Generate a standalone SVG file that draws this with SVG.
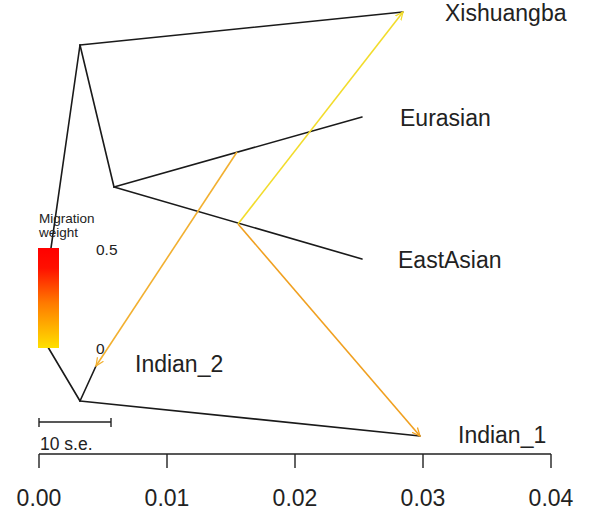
<svg xmlns="http://www.w3.org/2000/svg" width="593" height="531" viewBox="0 0 593 531">
<style>
text{font-family:"Liberation Sans",Arial,sans-serif;fill:#222}
.lbl{font-size:23px}
.tree{stroke:#1a1a1a;stroke-width:1.6;fill:none;stroke-linecap:round}
.mig{stroke-width:1.6;fill:none}
.ax{stroke:#222;stroke-width:1.4;fill:none}
</style>
<defs>
<linearGradient id="grad" x1="0" y1="0" x2="0" y2="1">
<stop offset="0" stop-color="#ff0000"/>
<stop offset="0.2" stop-color="#ff1000"/>
<stop offset="0.55" stop-color="#ff7a00"/>
<stop offset="1" stop-color="#ffe000"/>
</linearGradient>
<marker id="ay" viewBox="0 0 10 10" refX="9" refY="5" markerWidth="9" markerHeight="9" markerUnits="userSpaceOnUse" orient="auto">
<path d="M0,1 L9,5 L0,9" fill="none" stroke="#f2dc2c" stroke-width="1.4"/>
</marker>
<marker id="ao" viewBox="0 0 10 10" refX="9" refY="5" markerWidth="9" markerHeight="9" markerUnits="userSpaceOnUse" orient="auto">
<path d="M0,1 L9,5 L0,9" fill="none" stroke="#f0a020" stroke-width="1.4"/>
</marker>
<marker id="ao2" viewBox="0 0 10 10" refX="9" refY="5" markerWidth="9" markerHeight="9" markerUnits="userSpaceOnUse" orient="auto">
<path d="M0,1 L9,5 L0,9" fill="none" stroke="#f2b030" stroke-width="1.4"/>
</marker>
</defs>
<rect width="593" height="531" fill="#fff"/>
<g id="connectors">
<path class="tree" d="M39,332 L80,45"/>
<path class="tree" d="M39,332 L80,401"/>
<path class="tree" d="M80,45 L403,12"/>
<path class="tree" d="M80,45 L114,187"/>
<path class="tree" d="M114,187 L362,117"/>
<path class="tree" d="M114,187 L362,259"/>
<path class="tree" d="M80,401 L96,366"/>
<path class="tree" d="M80,401 L420,436"/>
<path class="mig" stroke="#f2dc2c" d="M238,224 L403,12" marker-end="url(#ay)"/>
<path class="mig" stroke="#f0a020" d="M238,224 L420,436" marker-end="url(#ao)"/>
<path class="mig" stroke="#f2b030" d="M237,152 L96,366" marker-end="url(#ao2)"/>
</g>
<g id="legend">
<text x="39" y="223" font-size="13.5">Migration</text>
<text x="39" y="237" font-size="13.5">weight</text>
<rect x="38" y="248" width="21" height="100" fill="url(#grad)"/>
<text x="96" y="255" font-size="15.5">0.5</text>
<text x="96" y="354" font-size="15.5">0</text>
</g>
<g id="node-Xishuangba"><text class="lbl" x="445" y="21">Xishuangba</text></g>
<g id="node-Eurasian"><text class="lbl" x="400" y="126">Eurasian</text></g>
<g id="node-EastAsian"><text class="lbl" x="398" y="268">EastAsian</text></g>
<g id="node-Indian_2"><text class="lbl" x="135" y="372">Indian_2</text></g>
<g id="node-Indian_1"><text class="lbl" x="458" y="443">Indian_1</text></g>
<g id="scalebar">
<path class="ax" d="M39,418 V427 M39,422 H111 M111,418 V427"/>
<text x="40" y="450" font-size="17.5">10 s.e.</text>
</g>
<g id="axis">
<path class="ax" d="M39,454 H551 M39,454 V468 M167,454 V468 M295,454 V468 M423,454 V468 M551,454 V468"/>
<text class="lbl" x="39" y="506" text-anchor="middle">0.00</text>
<text class="lbl" x="167" y="506" text-anchor="middle">0.01</text>
<text class="lbl" x="295" y="506" text-anchor="middle">0.02</text>
<text class="lbl" x="423" y="506" text-anchor="middle">0.03</text>
<text class="lbl" x="551" y="506" text-anchor="middle">0.04</text>
</g>
</svg>
